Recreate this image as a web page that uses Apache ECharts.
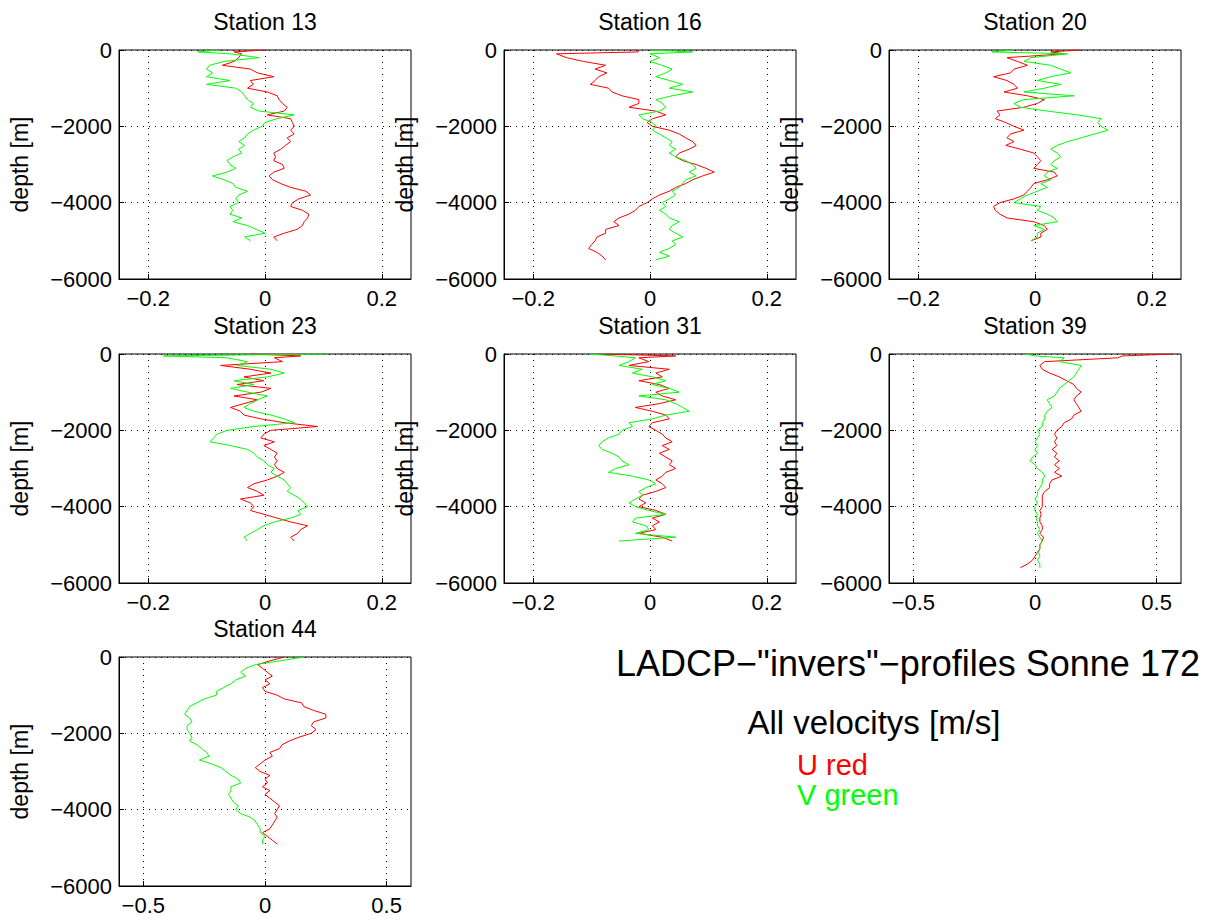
<!DOCTYPE html>
<html>
<head>
<meta charset="UTF-8">
<title>LADCP invers profiles Sonne 172</title>
<script src="https://cdn.jsdelivr.net/npm/echarts@6.0.0/dist/echarts.min.js"></script>
<style>
html, body { margin: 0; padding: 0; background: #fff; }
#main { width: 1207px; height: 921px; }
</style>
</head>
<body>
<div id="main"></div>
<script type="text/javascript">
// depth grid [m], shared by every profile (0, 50, 100, then every 100 m)
var depth = [0, -50, -100, -200, -300, -400, -500, -600, -700, -800, -900,
  -1000, -1100, -1200, -1300, -1400, -1500, -1600, -1700, -1800, -1900,
  -2000, -2100, -2200, -2300, -2400, -2500, -2600, -2700, -2800, -2900,
  -3000, -3100, -3200, -3300, -3400, -3500, -3600, -3700, -3800, -3900,
  -4000, -4100, -4200, -4300, -4400, -4500, -4600, -4700, -4800, -4900,
  -5000, -5100, -5200, -5300, -5400, -5500, -5600, -5700];

var stationNames = ['Station 13', 'Station 16', 'Station 20', 'Station 23', 'Station 31', 'Station 39', 'Station 44'];

// U (red) and V (green) velocities [m/s], one value per depth above
var s13U = [0, -0.053, -0.04, -0.045, -0.053, -0.073, -0.025, -0.013, 0.015, -0.025, -0.02,
  -0.03, 0.004, 0.021, 0.024, 0.03, 0.038, 0.033, 0.004, 0.044, 0.047,
  0.05, 0.044, 0.05, 0.038, 0.044, 0.035, 0.027, 0.015, 0.018, 0.015,
  0.03, 0.033, 0.015, 0.007, 0.013, 0.027, 0.044, 0.07, 0.078, 0.058,
  0.047, 0.044, 0.064, 0.075, 0.073, 0.067, 0.064, 0.055, 0.033, 0.015,
  0.021];
var s13V = [-0.08, -0.115, -0.06, -0.01, -0.07, -0.095, -0.1, -0.09, -0.1, -0.06, -0.1,
  -0.05, -0.04, -0.035, -0.03, -0.02, -0.025, -0.01, 0.05, 0.02, 0.0,
  -0.005, -0.02, -0.03, -0.035, -0.045, -0.035, -0.045, -0.04, -0.055, -0.065,
  -0.06, -0.05, -0.065, -0.09, -0.07, -0.055, -0.05, -0.03, -0.045, -0.05,
  -0.045, -0.06, -0.055, -0.06, -0.04, -0.055, -0.03, -0.015, 0.0, -0.035,
  -0.025];

var s16U = [-0.02, -0.02, -0.16, -0.143, -0.114, -0.076, -0.094, -0.074, -0.088, -0.094, -0.102,
  -0.071, -0.065, -0.048, -0.019, -0.019, -0.036, 0.01, 0.027, 0.004, -0.005,
  0.004, 0.033, 0.05, 0.061, 0.073, 0.079, 0.067, 0.05, 0.044, 0.056,
  0.079, 0.096, 0.11, 0.09, 0.073, 0.061, 0.044, 0.033, 0.016, 0.004,
  -0.005, -0.019, -0.025, -0.036, -0.053, -0.062, -0.053, -0.076, -0.076, -0.091,
  -0.094, -0.1, -0.105, -0.091, -0.082, -0.076];
var s16V = [0.0, 0.073, 0.0, 0.016, 0.0, 0.02, 0.038, 0.027, 0.01, 0.033, 0.056,
  0.033, 0.073, 0.038, 0.01, 0.021, 0.027, 0.016, -0.019, -0.013, 0.004,
  0.01, 0.004, 0.016, 0.027, 0.038, 0.033, 0.044, 0.033, 0.044, 0.061,
  0.073, 0.079, 0.067, 0.079, 0.061, 0.056, 0.05, 0.038, 0.044, 0.033,
  0.021, 0.027, 0.016, 0.027, 0.033, 0.05, 0.038, 0.033, 0.044, 0.056,
  0.038, 0.044, 0.033, 0.016, 0.033, 0.01];

var s20U = [0.079, 0.027, 0.05, -0.048, -0.03, -0.013, -0.036, -0.042, -0.071, -0.048, -0.036,
  -0.03, -0.053, -0.013, 0.016, 0.004, -0.019, -0.065, -0.06, -0.068, -0.05,
  -0.036, -0.019, -0.042, -0.048, -0.036, -0.05, -0.025, -0.002, 0.004, 0.01,
  0.004, -0.002, 0.033, 0.038, 0.021, -0.002, -0.007, -0.013, -0.019, -0.036,
  -0.06, -0.071, -0.068, -0.06, -0.048, -0.002, 0.016, 0.021, 0.01, 0.01,
  -0.007];
var s20V = [-0.036, -0.074, 0.056, -0.007, -0.019, 0.027, 0.044, 0.061, 0.027, 0.004, 0.044,
  0.016, -0.019, 0.067, -0.019, -0.036, -0.025, 0.021, 0.073, 0.113, 0.107,
  0.113, 0.125, 0.102, 0.079, 0.056, 0.038, 0.027, 0.038, 0.044, 0.033,
  0.027, 0.038, 0.021, 0.016, 0.027, 0.01, 0.021, 0.004, -0.013, -0.025,
  -0.036, 0.01, 0.004, 0.021, 0.033, 0.038, -0.002, 0.016, 0.004, 0.004,
  -0.007];

var s23U = [-0.025, 0.061, 0.016, 0.03, -0.076, -0.025, 0.01, -0.036, -0.002, -0.048, 0.01,
  -0.007, -0.053, -0.013, -0.036, -0.059, -0.042, -0.036, -0.007, 0.033, 0.09,
  0.01, -0.002, -0.007, 0.016, -0.002, 0.01, 0.021, 0.016, 0.021, 0.016,
  0.021, 0.033, 0.021, 0.004, -0.019, -0.03, -0.013, -0.002, -0.042, -0.025,
  -0.019, -0.025, -0.002, 0.021, 0.044, 0.073, 0.061, 0.056, 0.044, 0.05];
var s23V = [0.107, -0.174, -0.065, -0.03, -0.048, 0.01, 0.033, 0.004, -0.053, -0.019, -0.059,
  -0.03, 0.004, -0.013, -0.025, -0.036, -0.019, 0.01, 0.033, 0.05, -0.019,
  -0.065, -0.082, -0.088, -0.094, -0.059, -0.03, -0.019, -0.013, -0.002, 0.004,
  0.016, 0.01, 0.021, 0.033, 0.038, 0.044, 0.038, 0.05, 0.061, 0.067,
  0.073, 0.056, 0.061, 0.044, 0.016, -0.002, -0.013, -0.025, -0.036, -0.03];

var s31U = [-0.088, 0.044, -0.019, -0.002, -0.036, 0.033, 0.01, 0.021, -0.019, 0.016, 0.033,
  0.01, 0.021, 0.044, 0.016, -0.025, 0.004, 0.027, 0.033, 0.004, -0.002,
  0.01, 0.021, 0.027, 0.038, 0.021, 0.033, 0.016, 0.027, 0.038, 0.033,
  0.044, 0.027, 0.021, 0.01, 0.021, 0.027, 0.01, -0.013, -0.019, -0.007,
  -0.019, 0.01, 0.027, 0.004, 0.016, 0.004, 0.01, -0.019, 0.021, 0.038];
var s31V = [-0.105, -0.06, -0.025, -0.036, -0.053, -0.013, -0.03, 0.004, 0.027, 0.004, 0.033,
  0.05, -0.019, 0.027, 0.044, 0.056, 0.067, 0.027, 0.004, -0.036, -0.03,
  -0.048, -0.053, -0.071, -0.082, -0.088, -0.082, -0.065, -0.053, -0.048, -0.036,
  -0.059, -0.071, -0.03, -0.002, 0.01, -0.007, -0.019, -0.013, -0.025, -0.036,
  -0.025, -0.002, 0.027, -0.025, -0.03, -0.007, -0.002, -0.025, 0.044, -0.053];

var s39U = [0.57, 0.36, 0.34, 0.04, 0.02, 0.03, 0.06, 0.1, 0.13, 0.16, 0.17,
  0.19, 0.17, 0.16, 0.17, 0.18, 0.19, 0.16, 0.15, 0.12, 0.11,
  0.09, 0.08, 0.09, 0.08, 0.09, 0.07, 0.09, 0.08, 0.1, 0.08,
  0.1, 0.08, 0.11, 0.07, 0.06, 0.06, 0.04, 0.03, 0.03, 0.03,
  0.03, 0.02, 0.025, 0.02, 0.02, 0.03, 0.03, 0.02, 0.035, 0.03,
  0.02, 0.02, 0.01, 0.0, -0.01, -0.03, -0.06];
var s39V = [-0.04, 0.0, 0.12, 0.1, 0.19, 0.18, 0.17, 0.16, 0.14, 0.12, 0.1,
  0.09, 0.08, 0.05, 0.06, 0.07, 0.05, 0.04, 0.04, 0.03, 0.03,
  0.01, 0.02, 0.01, 0.0, 0.01, 0.0, 0.01, -0.01, -0.02, 0.0,
  0.01, 0.03, 0.04, 0.03, 0.03, 0.02, 0.01, 0.01, 0.0, 0.01,
  0.0, 0.0, 0.01, 0.005, 0.01, 0.01, 0.02, 0.01, 0.02, 0.03,
  0.02, 0.02, 0.015, 0.02, 0.01, 0.02, 0.02];

var s44U = [0.08, 0.05, 0.02, -0.03, -0.01, 0.01, 0.03, 0.0, 0.02, -0.01, 0.0,
  0.05, 0.08, 0.15, 0.16, 0.2, 0.25, 0.25, 0.2, 0.19, 0.21,
  0.19, 0.14, 0.1, 0.07, 0.06, 0.02, 0.03, 0.0, -0.02, -0.04,
  -0.02, 0.02, 0.0, 0.01, -0.01, 0.02, 0.0, 0.02, 0.04, 0.06,
  0.05, 0.04, 0.05, 0.04, 0.03, 0.02, -0.01, 0.01, 0.03, 0.05];
var s44V = [0.16, 0.11, 0.06, -0.04, -0.08, -0.1, -0.08, -0.12, -0.14, -0.17, -0.2,
  -0.2, -0.25, -0.28, -0.31, -0.32, -0.33, -0.31, -0.3, -0.32, -0.32,
  -0.31, -0.3, -0.31, -0.28, -0.26, -0.24, -0.23, -0.27, -0.22, -0.18,
  -0.16, -0.14, -0.11, -0.1, -0.14, -0.14, -0.15, -0.14, -0.13, -0.11,
  -0.12, -0.1, -0.06, -0.04, -0.03, -0.02, -0.02, 0.0, -0.01, -0.01];

var uSeries = [s13U, s16U, s20U, s23U, s31U, s39U, s44U];
var vSeries = [s13V, s16V, s20V, s23V, s31V, s39V, s44V];

// tick labels
var xTicksNarrow = [-0.2, 0, 0.2];
var xTicksWide = [-0.5, 0, 0.5];
var yTicks = [0, -2000, -4000, -6000];

var FONT = 'Liberation Sans, Arial, Helvetica, sans-serif';

// subplot boxes: left, top (pixels), half range of the x axis
var boxes = [
  {left: 119, top: 50, xr: 0.25}, {left: 504, top: 50, xr: 0.25}, {left: 889, top: 50, xr: 0.25},
  {left: 119, top: 354, xr: 0.25}, {left: 504, top: 354, xr: 0.25}, {left: 889, top: 354, xr: 0.6},
  {left: 119, top: 657, xr: 0.6}
];
var boxW = 292, boxH = 229;

function minusFmt(v) {
  return v < 0 ? '\u2212' + String(-v) : String(v);
}

function pairs(vals) {
  return vals.map(function (v, k) { return [v, depth[k]]; });
}

var grid = [], xAxis = [], yAxis = [], series = [], graphic = [];
for (var i = 0; i < boxes.length; i++) {
  var b = boxes[i];
  var ticks = b.xr > 0.3 ? xTicksWide : xTicksNarrow;
  grid.push({left: b.left, top: b.top, width: boxW, height: boxH,
    show: true, borderColor: '#000', borderWidth: 1, containLabel: false});
  xAxis.push({
    gridIndex: i, type: 'value', min: -b.xr, max: b.xr,
    splitNumber: b.xr > 0.3 ? 2 : 3,
    axisLine: {show: true, onZero: false, lineStyle: {color: '#000', width: 1}},
    axisTick: {show: true, inside: true, length: 5, customValues: ticks, lineStyle: {color: '#000'}},
    axisLabel: {customValues: ticks, formatter: minusFmt, color: '#000', fontSize: 22, fontFamily: FONT, margin: 8},
    splitLine: {show: true, lineStyle: {color: '#000', width: 1, type: [1, 5]}}
  });
  yAxis.push({
    gridIndex: i, type: 'value', min: -6000, max: 0, interval: 2000,
    name: 'depth [m]', nameLocation: 'middle', nameGap: 88,
    nameTextStyle: {color: '#000', fontSize: 23, fontFamily: FONT},
    axisLine: {show: true, onZero: false, lineStyle: {color: '#000', width: 1}},
    axisTick: {show: true, inside: true, length: 5, customValues: yTicks, lineStyle: {color: '#000'}},
    axisLabel: {customValues: yTicks, formatter: minusFmt, color: '#000', fontSize: 22, fontFamily: FONT, margin: 7},
    splitLine: {show: true, lineStyle: {color: '#000', width: 1, type: [1, 5]}}
  });
  series.push({
    type: 'line', xAxisIndex: i, yAxisIndex: i, data: pairs(uSeries[i]),
    symbol: 'none', lineStyle: {color: '#ff0000', width: 1}, silent: true
  });
  series.push({
    type: 'line', xAxisIndex: i, yAxisIndex: i, data: pairs(vSeries[i]),
    symbol: 'none', lineStyle: {color: '#00ff00', width: 1}, silent: true
  });
  graphic.push({
    type: 'text', x: b.left + boxW / 2, y: b.top - 28,
    style: {text: stationNames[i], fill: '#000', font: '23px ' + FONT, align: 'center', verticalAlign: 'middle'}
  });
}

graphic.push({type: 'text', x: 908, y: 663,
  style: {text: 'LADCP\u2212"invers"\u2212profiles Sonne 172', fill: '#000', font: '36px ' + FONT, align: 'center', verticalAlign: 'middle'}});
graphic.push({type: 'text', x: 874, y: 722,
  style: {text: 'All velocitys [m/s]', fill: '#000', font: '33px ' + FONT, align: 'center', verticalAlign: 'middle'}});
graphic.push({type: 'text', x: 797, y: 765,
  style: {text: 'U red', fill: '#ff0000', font: '29px ' + FONT, align: 'left', verticalAlign: 'middle'}});
graphic.push({type: 'text', x: 797, y: 795,
  style: {text: 'V green', fill: '#00ff00', font: '29px ' + FONT, align: 'left', verticalAlign: 'middle'}});

var myChart = echarts.init(document.getElementById('main'), null, {renderer: 'svg'});
myChart.setOption({
  backgroundColor: '#fff',
  animation: false,
  grid: grid,
  xAxis: xAxis,
  yAxis: yAxis,
  series: series,
  graphic: graphic
});
</script>
</body>
</html>
